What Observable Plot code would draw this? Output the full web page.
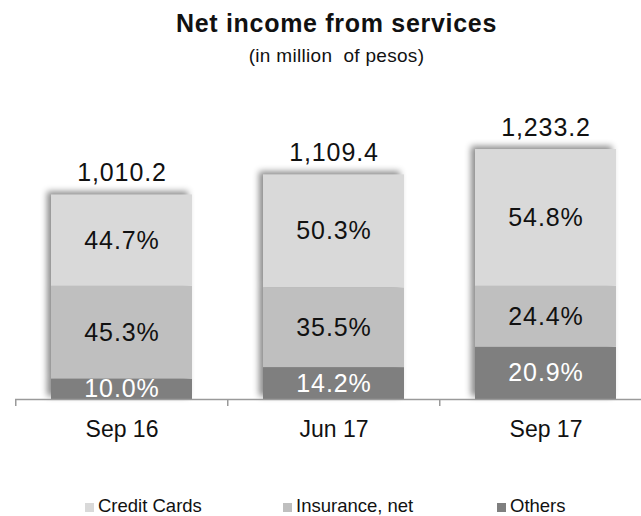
<!DOCTYPE html>
<html>
<head>
<meta charset="utf-8">
<script src="https://cdn.jsdelivr.net/npm/d3@7"></script>
<script src="https://cdn.jsdelivr.net/npm/@observablehq/plot@0.6"></script>
<style>
  html, body { margin: 0; padding: 0; background: #fff; }
  #page { position: relative; width: 641px; height: 516px; overflow: hidden; font-family: "Liberation Sans", Arial, sans-serif; color: #111; }
  #title { position: absolute; left: 16px; width: 641px; top: 8px; text-align: center; font-size: 25px; line-height: 30px; font-weight: bold; letter-spacing: 0.7px; }
  #subtitle { position: absolute; left: 16px; width: 641px; top: 45px; text-align: center; font-size: 19px; line-height: 22px; letter-spacing: 0.3px; }
  #chart { position: absolute; left: 0; top: 0; }
  .leg { position: absolute; top: 495px; font-size: 18.5px; line-height: 22px; white-space: nowrap; }
  .sw { position: absolute; top: 503px; width: 9px; height: 9px; }
</style>
</head>
<body>
<div id="page">
  <div id="chart"></div>
  <div id="title">Net income from services</div>
  <div id="subtitle">(in million&nbsp; of pesos)</div>
</div>
<script>
const categories = ["Sep 16", "Jun 17", "Sep 17"];
const totals = [1010.2, 1109.4, 1233.2];
const series = ["Credit Cards", "Insurance, net", "Others"];
const creditPct = [44.7, 50.3, 54.8];
const insurancePct = [45.3, 35.5, 24.4];
const othersPct = [10.0, 14.2, 20.9];
const colors = ["#d9d9d9", "#bfbfbf", "#7f7f7f"];

// stacked rows (bottom to top: Others, Insurance, Credit Cards)
const rows = [];
categories.forEach((cat, i) => {
  const parts = [
    {series: "Others", pct: othersPct[i]},
    {series: "Insurance, net", pct: insurancePct[i]},
    {series: "Credit Cards", pct: creditPct[i]}
  ];
  let acc = 0;
  parts.forEach(p => {
    const v = totals[i] * p.pct / 100;
    rows.push({cat, series: p.series, pct: p.pct, y1: acc, y2: acc + v, mid: acc + v / 2});
    acc += v;
  });
});
const totalRows = categories.map((cat, i) => ({cat, total: totals[i]}));

const pxPerUnit = 0.2025;
const base = 399;
const band = (652.5 - 15) / 3;

const chart = Plot.plot({
  width: 641,
  height: 470,
  marginLeft: 15,
  marginRight: 0,
  marginTop: 0,
  marginBottom: 0,
  style: {fontFamily: "Liberation Sans, Arial, sans-serif", background: "transparent", overflow: "visible"},
  x: {type: "band", domain: categories, range: [15, 652.5], paddingInner: 0.336, paddingOuter: 0.168, axis: null},
  y: {domain: [0, 1300], range: [base, base - 1300 * pxPerUnit], axis: null},
  color: {domain: series, range: colors},
  marks: [
    Plot.barY(rows, {x: "cat", y1: "y1", y2: "y2", fill: "series"}),
    Plot.text(rows.filter(d => d.series !== "Others"), {x: "cat", y: "mid", text: d => d.pct.toFixed(1) + "%", fill: "#111", fontSize: 25, lineAnchor: "middle"}),
    Plot.text(rows.filter(d => d.series === "Others"), {x: "cat", y: "mid", text: d => d.pct.toFixed(1) + "%", fill: "#ffffff", fontSize: 25, lineAnchor: "middle"}),
    Plot.text(totalRows, {x: "cat", y: "total", text: d => d3.format(",.1f")(d.total), fill: "#111", fontSize: 25, lineAnchor: "middle", dy: -22}),
    Plot.ruleY([0], {stroke: "#9a9a9a", strokeWidth: 1.5}),
    Plot.ruleX(categories, {x: d => d, dx: -band / 2, y1: 0, y2: -7 / pxPerUnit, stroke: "#9a9a9a", strokeWidth: 1.5}),
    Plot.text(categories, {x: d => d, y: d => 0, text: d => d, fill: "#111", fontSize: 23, lineAnchor: "middle", dy: 30})
  ]
});
document.getElementById("chart").appendChild(chart);

// soft shadow on bars (left/top), letter spacing on value labels
const barG = chart.querySelector('g[aria-label="bar"]');
if (barG) barG.style.filter = "drop-shadow(-4px -3px 3px rgba(0,0,0,0.45))";
const textGroups = chart.querySelectorAll('g[aria-label="text"]');
for (let k = 0; k < 3 && k < textGroups.length; k++) textGroups[k].style.letterSpacing = "0.9px";

// legend
const page = document.getElementById("page");
const legX = [85, 283, 497];
series.forEach((s, i) => {
  const sw = document.createElement("div");
  sw.className = "sw";
  sw.style.left = legX[i] + "px";
  sw.style.background = colors[i];
  page.appendChild(sw);
  const t = document.createElement("div");
  t.className = "leg";
  t.style.left = (legX[i] + 13) + "px";
  t.textContent = s;
  page.appendChild(t);
});
</script>
</body>
</html>
